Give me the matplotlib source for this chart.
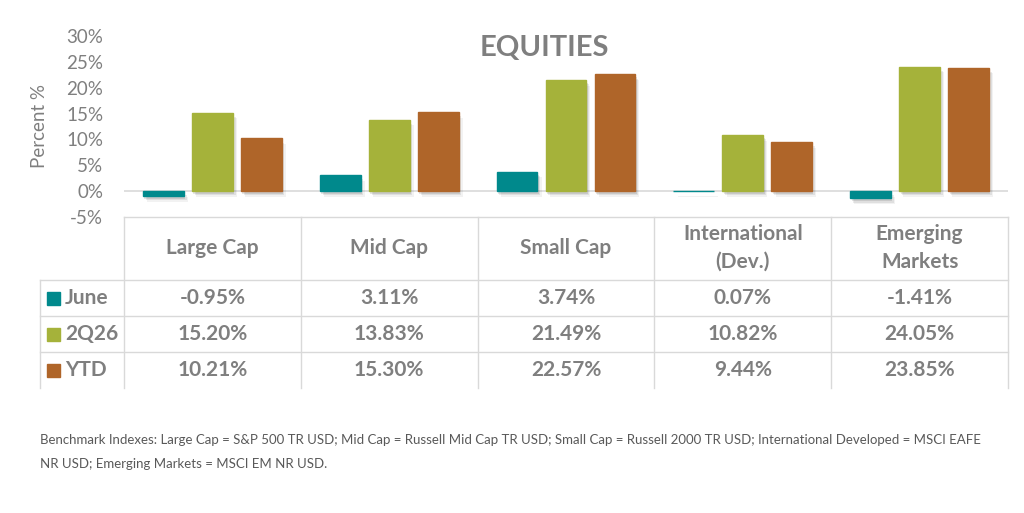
import matplotlib
matplotlib.use("Agg")
import matplotlib.pyplot as plt
import matplotlib.patheffects as pe
from matplotlib.patches import Rectangle
from matplotlib.transforms import blended_transform_factory
import numpy as np

categories = ["Large Cap", "Mid Cap", "Small Cap", "International\n(Dev.)", "Emerging\nMarkets"]
series_names = ["June", "2Q26", "YTD"]
june = [-0.95, 3.11, 3.74, 0.07, -1.41]
q2 = [15.20, 13.83, 21.49, 10.82, 24.05]
ytd = [10.21, 15.30, 22.57, 9.44, 23.85]
yticks = [-5, 0, 5, 10, 15, 20, 25, 30]
colors = ["#00898C", "#A5B23A", "#AF6529"]
footnote = ("Benchmark Indexes: Large Cap = S&P 500 TR USD; Mid Cap = Russell Mid Cap TR USD; Small Cap = Russell 2000 TR USD; International Developed = MSCI EAFE\n"
            "NR USD; Emerging Markets = MSCI EM NR USD.")

plt.rcParams['font.family'] = ['Lato', 'DejaVu Sans']
W, H = 1024, 513
fig = plt.figure(figsize=(W / 100, H / 100), dpi=100)
fig.patch.set_facecolor("white")

gray = "#7F7F7F"
grid = "#D9D9D9"

def fx(px):
    return px / W

def fy(py):
    return 1 - py / H

x0, x1 = 124, 1008
ytop, ybot = 36, 217
ax = fig.add_axes([fx(x0), fy(ybot), fx(x1) - fx(x0), fy(ytop) - fy(ybot)])
n = len(categories)
ax.set_xlim(-0.5, n - 0.5)
ax.set_ylim(-5, 30)
for s in ax.spines.values():
    s.set_visible(False)
ax.set_xticks([])
ax.set_yticks(yticks)
ax.set_yticklabels([f"{t}%" for t in yticks], fontsize=13.5, color=gray)
ax.tick_params(axis='y', length=0, pad=15)
ax.set_ylabel("Percent %", fontsize=13.5, color=gray, labelpad=13)
ax.axhline(0, color=grid, lw=1.2, zorder=1)

x = np.arange(n)
bw = 0.23
off = 0.277
shadow = [pe.SimplePatchShadow(offset=(3, -4), shadow_rgbFace="#000000", alpha=0.05),
          pe.SimplePatchShadow(offset=(2, -3), shadow_rgbFace="#000000", alpha=0.08),
          pe.SimplePatchShadow(offset=(1, -2), shadow_rgbFace="#000000", alpha=0.10),
          pe.Normal()]
for i, (vals, c) in enumerate(zip([june, q2, ytd], colors)):
    bars = ax.bar(x + (i - 1) * off, vals, width=bw, color=c, edgecolor=c, lw=1.0, zorder=3)
    for b in bars:
        b.set_path_effects(shadow)

fig.text(fx(544), fy(48), "EQUITIES", ha="center", va="center", fontsize=21,
         fontweight="bold", color=gray)

# table
trans = blended_transform_factory(ax.transData, fig.transFigure)
lw = 1.0
row_y = [280, 316, 352]
bottom = 388
fig.add_artist(plt.Line2D([fx(x0), fx(x1)], [fy(217), fy(217)], color=grid, lw=lw))
for yy in row_y:
    fig.add_artist(plt.Line2D([fx(40), fx(x1)], [fy(yy), fy(yy)], color=grid, lw=lw))
fig.add_artist(plt.Line2D([fx(40), fx(40)], [fy(280), fy(bottom)], color=grid, lw=lw))
for k in range(n + 1):
    xv = k - 0.5
    l = plt.Line2D([xv, xv], [fy(217), fy(bottom)], color=grid, lw=lw, transform=trans)
    fig.add_artist(l)
for k, cat in enumerate(categories):
    fig.text(k, fy(248), cat, transform=trans, ha="center", va="center",
             fontsize=15, fontweight="bold", color=gray, linespacing=1.45)
for r, (name, vals, c) in enumerate(zip(series_names, [june, q2, ytd], colors)):
    yc = (row_y[r] + (row_y[r + 1] if r + 1 < len(row_y) else bottom)) / 2
    fig.add_artist(Rectangle((fx(47), fy(yc + 6.5)), fx(13), 13 / H, color=c,
                             transform=fig.transFigure))
    fig.text(fx(65), fy(yc), name, ha="left", va="center", fontsize=15,
             fontweight="bold", color=gray)
    for k, v in enumerate(vals):
        fig.text(k, fy(yc), f"{v:.2f}%", transform=trans, ha="center", va="center",
                 fontsize=15, fontweight="bold", color=gray)

fig.text(fx(40), fy(452), footnote, ha="left", va="center", fontsize=9.5,
         color="#595959", linespacing=2.3)

fig.savefig("out.png", dpi=100, facecolor="white")
